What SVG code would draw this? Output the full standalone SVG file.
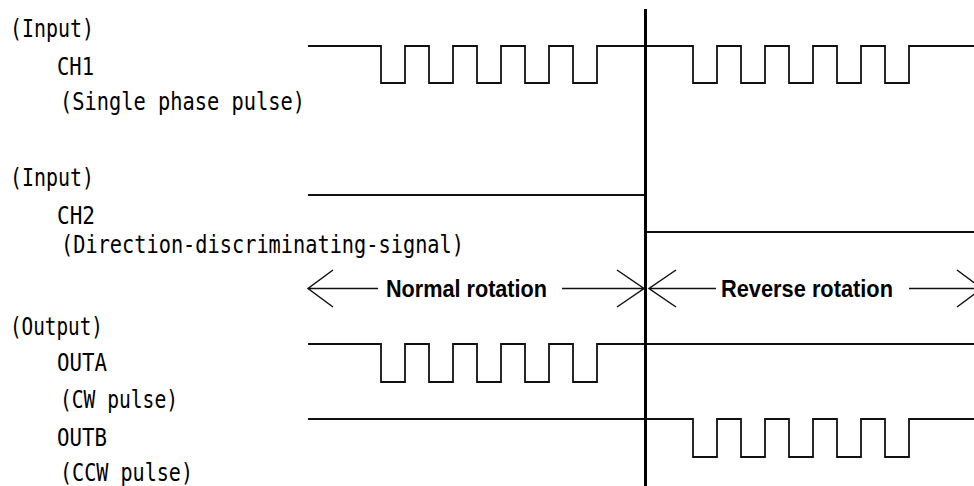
<svg xmlns="http://www.w3.org/2000/svg" width="974" height="486" viewBox="0 0 974 486">
<style>
.lbl{font-family:"DejaVu Sans Mono","Liberation Mono",monospace;font-size:25px;fill:#000}
.bold{font-family:"Liberation Sans","DejaVu Sans",sans-serif;font-size:24px;font-weight:bold;fill:#000}
.wave{fill:none;stroke:#111;stroke-width:1.8;stroke-linejoin:miter}
.arr{fill:none;stroke:#111;stroke-width:1.5}
.div{stroke:#000;stroke-width:3}
</style>
<rect width="974" height="486" fill="#fff"/>
<g id="labels">
<text class="lbl" x="10" y="37" textLength="84" lengthAdjust="spacingAndGlyphs">(Input)</text>
<text class="lbl" x="57" y="75" textLength="37" lengthAdjust="spacingAndGlyphs">CH1</text>
<text class="lbl" x="60" y="110" textLength="245" lengthAdjust="spacingAndGlyphs">(Single phase pulse)</text>
<text class="lbl" x="10" y="186" textLength="84" lengthAdjust="spacingAndGlyphs">(Input)</text>
<text class="lbl" x="57" y="224" textLength="38" lengthAdjust="spacingAndGlyphs">CH2</text>
<text class="lbl" x="61" y="253" textLength="403" lengthAdjust="spacingAndGlyphs">(Direction-discriminating-signal)</text>
<text class="lbl" x="10" y="335" textLength="93" lengthAdjust="spacingAndGlyphs">(Output)</text>
<text class="lbl" x="57" y="371" textLength="50" lengthAdjust="spacingAndGlyphs">OUTA</text>
<text class="lbl" x="60" y="408" textLength="118" lengthAdjust="spacingAndGlyphs">(CW pulse)</text>
<text class="lbl" x="57" y="446" textLength="50" lengthAdjust="spacingAndGlyphs">OUTB</text>
<text class="lbl" x="60" y="481" textLength="133" lengthAdjust="spacingAndGlyphs">(CCW pulse)</text>
</g>
<g id="ch1">
<path class="wave" d="M308,46 H381 V83 H405 V46 H429 V83 H453 V46 H477 V83 H501 V46 H525 V83 H549 V46 H573 V83 H597 V46 H693 V83 H717 V46 H741 V83 H765 V46 H789 V83 H813 V46 H837 V83 H861 V46 H885 V83 H909 V46 H974"/>
</g>
<g id="ch2">
<path class="wave" d="M308,195 H645 M645,232 H974"/>
</g>
<g id="outa">
<path class="wave" d="M308,344 H381 V382 H405 V344 H429 V382 H453 V344 H477 V382 H501 V344 H525 V382 H549 V344 H573 V382 H597 V344 H974"/>
</g>
<g id="outb">
<path class="wave" d="M308,419 H693 V457 H717 V419 H741 V457 H765 V419 H789 V457 H813 V419 H837 V457 H861 V419 H885 V457 H909 V419 H974"/>
</g>
<g id="divider">
<line class="div" x1="645.5" y1="9" x2="645.5" y2="486"/>
</g>
<g id="connectors">
<path class="arr" d="M333,270 L308,288.5 L333,307 M308,288.5 H378"/>
<path class="arr" d="M562,288.5 H644 M617,270 L644,288.5 L617,307"/>
<path class="arr" d="M676,270 L649,288.5 L676,307 M649,288.5 H716"/>
<path class="arr" d="M909,288.5 H982 M957,270 L982,288.5 L957,307"/>
</g>
<g id="rotation-labels">
<text class="bold" x="386" y="297" textLength="161" lengthAdjust="spacingAndGlyphs">Normal rotation</text>
<text class="bold" x="721" y="297" textLength="172" lengthAdjust="spacingAndGlyphs">Reverse rotation</text>
</g>
</svg>
